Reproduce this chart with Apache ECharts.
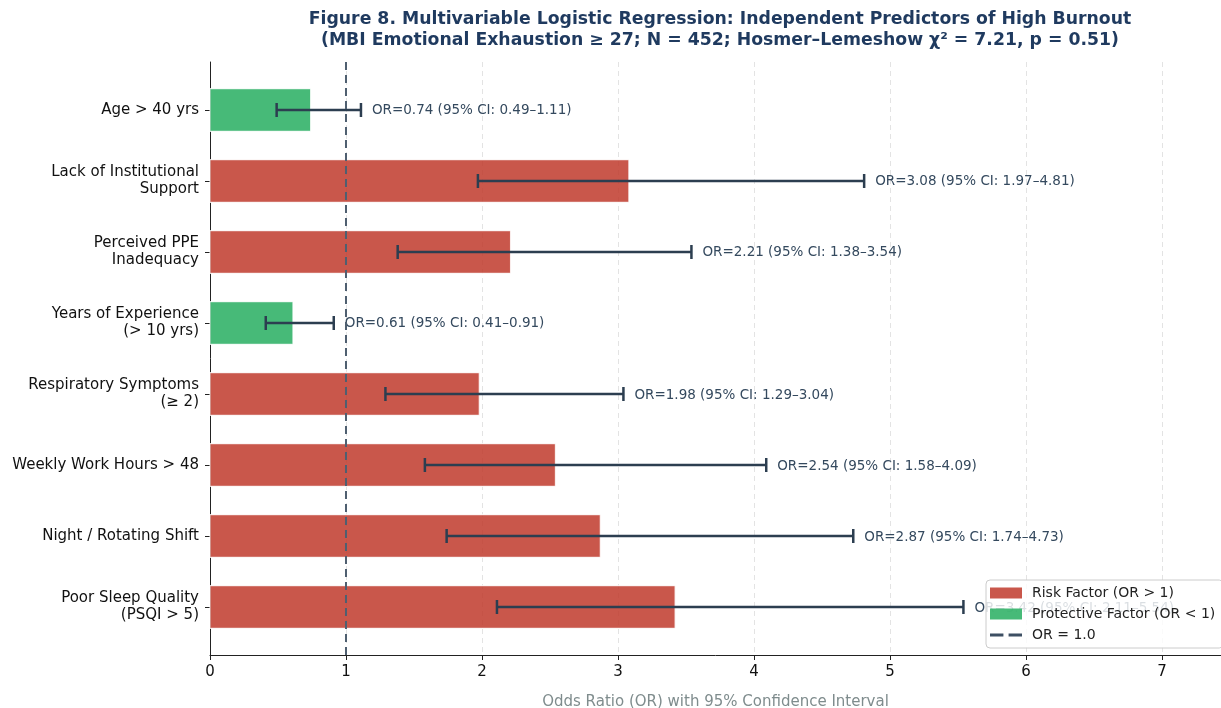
<!DOCTYPE html>
<html>
<head>
<meta charset="utf-8">
<script src="https://cdn.jsdelivr.net/npm/echarts@6/dist/echarts.min.js"></script>
<style>
  html, body { margin: 0; padding: 0; background: #fff; }
  #chart { width: 1221px; height: 708px; }
</style>
</head>
<body>
<div id="chart"></div>
<script>
// Predictors, top to bottom
const predictors = [
  'Age > 40 yrs',
  'Lack of Institutional\nSupport',
  'Perceived PPE\nInadequacy',
  'Years of Experience\n(> 10 yrs)',
  'Respiratory Symptoms\n(≥ 2)',
  'Weekly Work Hours > 48',
  'Night / Rotating Shift',
  'Poor Sleep Quality\n(PSQI > 5)'
];
// Adjusted odds ratios and 95% confidence limits
const oddsRatios = [0.74, 3.08, 2.21, 0.61, 1.98, 2.54, 2.87, 3.42];
const ciLower    = [0.49, 1.97, 1.38, 0.41, 1.29, 1.58, 1.74, 2.11];
const ciUpper    = [1.11, 4.81, 3.54, 0.91, 3.04, 4.09, 4.73, 5.54];
const xTicks = [0, 1, 2, 3, 4, 5, 6, 7];
const referenceOR = 1;

const RISK = 'rgba(192,57,43,0.85)';
const PROTECT = 'rgba(39,174,96,0.85)';
const INK = '#2c3e50';
const FONT = 'DejaVu Sans, sans-serif';
const BAR_H = 0.6;
const Y_MIN = -0.676, Y_MAX = predictors.length - 1 + 0.676;

const idx = predictors.map((_, i) => i);
const riskData = idx.filter(i => oddsRatios[i] >= 1).map(i => [oddsRatios[i], i]);
const protData = idx.filter(i => oddsRatios[i] < 1).map(i => [oddsRatios[i], i]);
const ciData = idx.map(i => [ciLower[i], ciUpper[i], i, oddsRatios[i]]);

function renderBar(params, api) {
  const v = api.value(0), i = api.value(1);
  const p0 = api.coord([0, i]);
  const p1 = api.coord([v, i]);
  const h = Math.abs(api.size([0, BAR_H])[1]);
  return {
    type: 'rect',
    shape: { x: p0[0], y: p0[1] - h / 2, width: p1[0] - p0[0], height: h },
    style: { fill: api.visual('color'), stroke: 'rgba(255,255,255,0.8)', lineWidth: 1.2 }
  };
}

function renderCI(params, api) {
  const lo = api.value(0), hi = api.value(1), i = api.value(2), or = api.value(3);
  const a = api.coord([lo, i]);
  const b = api.coord([hi, i]);
  const cap = 7;
  const ls = { stroke: INK, lineWidth: 2.5 };
  return {
    type: 'group',
    children: [
      { type: 'line', shape: { x1: a[0], y1: a[1], x2: b[0], y2: b[1] }, style: ls },
      { type: 'line', shape: { x1: a[0], y1: a[1] - cap, x2: a[0], y2: a[1] + cap }, style: ls },
      { type: 'line', shape: { x1: b[0], y1: b[1] - cap, x2: b[0], y2: b[1] + cap }, style: ls },
      {
        type: 'text',
        style: {
          x: b[0] + 11, y: b[1] + 1,
          text: 'OR=' + or.toFixed(2) + ' (95% CI: ' + lo.toFixed(2) + '–' + hi.toFixed(2) + ')',
          fill: '#34495e', font: '13.5px ' + FONT, verticalAlign: 'middle', align: 'left'
        }
      }
    ]
  };
}

const chart = echarts.init(document.getElementById('chart'));
chart.setOption({
  backgroundColor: '#ffffff',
  animation: false,
  title: {
    text: 'Figure 8. Multivariable Logistic Regression: Independent Predictors of High Burnout\n(MBI Emotional Exhaustion ≥ 27; N = 452; Hosmer–Lemeshow χ² = 7.21, p = 0.51)',
    left: 715, top: 4, textAlign: 'center',
    textStyle: { fontFamily: FONT, fontSize: 17.3, fontWeight: 'bold', color: '#1f3a5f', lineHeight: 21 }
  },
  grid: { left: 210, right: 0, top: 62, bottom: 53, outerBoundsMode: 'none' },
  legend: {
    orient: 'vertical',
    left: 986, top: 580, z: 20,
    backgroundColor: 'rgba(255,255,255,0.82)',
    borderColor: '#cccccc', borderWidth: 1, borderRadius: 4,
    padding: [6, 8, 6, 4],
    itemGap: 7, itemWidth: 32, itemHeight: 11,
    textStyle: { fontFamily: FONT, fontSize: 14, color: '#222', padding: [0, 0, 0, 5] },
    data: [
      { name: 'Risk Factor (OR > 1)', icon: 'rect' },
      { name: 'Protective Factor (OR < 1)', icon: 'rect' },
      { name: 'OR = 1.0', icon: 'path://M0,0h13v3h-13zM18,0h13v3h-13z', itemStyle: { color: '#3d4f63' } }
    ]
  },
  xAxis: {
    type: 'value', min: 0, max: 7.434,
    name: 'Odds Ratio (OR) with 95% Confidence Interval',
    nameLocation: 'middle', nameGap: 40,
    nameTextStyle: { fontFamily: FONT, fontSize: 15, color: '#7f8c8d' },
    axisLine: { show: true, onZero: false, lineStyle: { color: '#222', width: 1 } },
    axisTick: { show: true, length: 5, customValues: xTicks, lineStyle: { color: '#222' } },
    axisLabel: { customValues: xTicks, fontFamily: FONT, fontSize: 15, color: '#111', margin: 10 },
    splitLine: { show: true, lineStyle: { color: '#e3e3e3', type: [5, 4], width: 1 } }
  },
  yAxis: {
    type: 'value', min: Y_MIN, max: Y_MAX, inverse: true,
    axisLine: { show: true, onZero: false, lineStyle: { color: '#222', width: 1 } },
    axisTick: { show: true, length: 5, customValues: idx, lineStyle: { color: '#222' } },
    axisLabel: {
      customValues: idx,
      formatter: v => predictors[Math.round(v)] || '',
      fontFamily: FONT, fontSize: 15, color: '#111', lineHeight: 17, margin: 11, align: 'right'
    },
    splitLine: { show: false }
  },
  series: [
    {
      name: 'Risk Factor (OR > 1)', type: 'custom', renderItem: renderBar,
      itemStyle: { color: RISK }, encode: { x: 0, y: 1 }, data: riskData, z: 2
    },
    {
      name: 'Protective Factor (OR < 1)', type: 'custom', renderItem: renderBar,
      itemStyle: { color: PROTECT }, encode: { x: 0, y: 1 }, data: protData, z: 2
    },
    {
      name: 'OR = 1.0', type: 'line', symbol: 'none',
      data: [[referenceOR, Y_MIN], [referenceOR, Y_MAX]],
      itemStyle: { color: '#3d4f63' },
      lineStyle: { color: '#4f5f70', width: 2, type: [8, 5] }, z: 3
    },
    {
      name: 'ci', type: 'custom', renderItem: renderCI,
      encode: { x: [0, 1], y: 2 }, data: ciData, z: 3
    }
  ]
});
</script>
</body>
</html>
